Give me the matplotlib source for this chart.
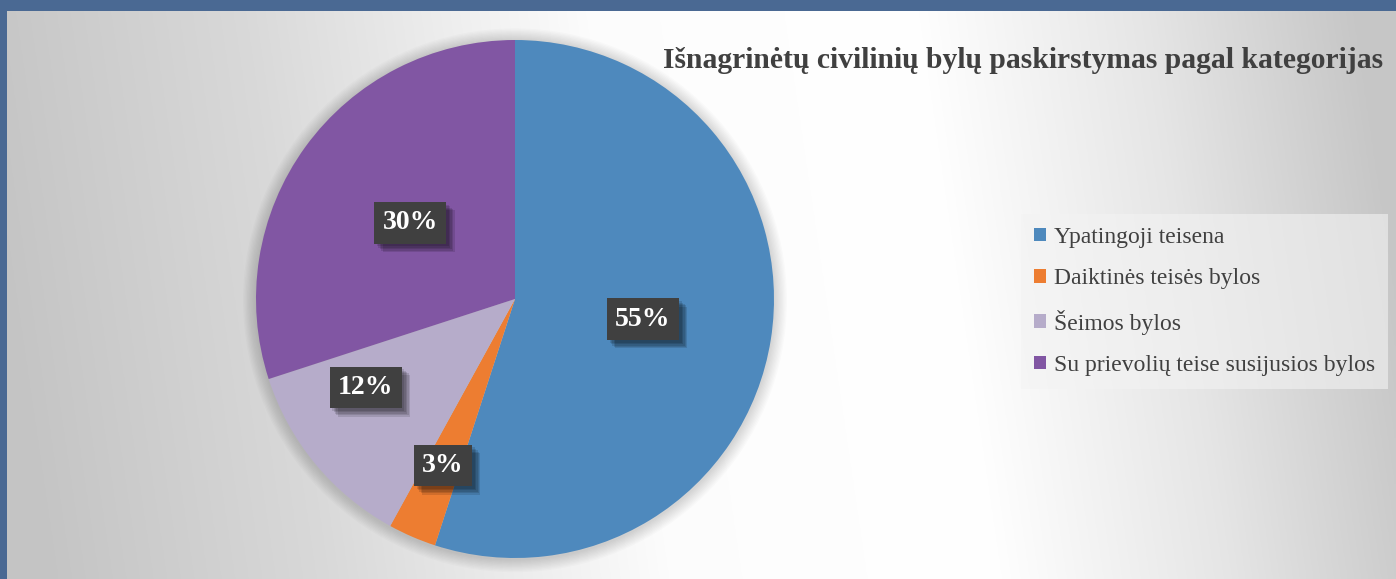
import numpy as np
import matplotlib
matplotlib.use("Agg")
import matplotlib.pyplot as plt
import matplotlib.patheffects as pe
from matplotlib.patches import Patch, Circle

# data
categories = ["Ypatingoji teisena", "Daiktinės teisės bylos",
              "Šeimos bylos", "Su prievolių teise susijusios bylos"]
shares = [55, 3, 12, 30]
title = "Išnagrinėtų civilinių bylų paskirstymas pagal kategorijas"

colors = ["#4e89bd", "#ed7d31", "#b6acca", "#8156a3"]
label_r = [0.5, 0.70, 0.67, 0.5]      # how far out each label sits
label_shift = [0, 0, -9, 0]           # small angle nudges (deg)

W, H = 1396, 579
fig = plt.figure(figsize=(W / 100, H / 100), dpi=100)
fig.patch.set_facecolor("#4a6993")

# chart area with a soft grey-white-grey gradient
bg = fig.add_axes([7 / W, 0, 1 - 7 / W, 1 - 11 / H])
xs = np.linspace(0, 1, 600)
ys = np.linspace(0, 1, 250)
X, Y = np.meshgrid(xs, ys)
u = X + 0.06 * (Y - 0.5)
g = np.interp(u, [0.0, 0.2, 0.45, 0.68, 0.85, 1.0], [0.77, 0.85, 0.99, 1.0, 0.9, 0.78])
bg.imshow(np.dstack([g, g, g]), aspect="auto", extent=[0, 1, 0, 1], origin="lower")
bg.set_axis_off()

# pie
cx, cy, r = 515, 299, 259
ax = fig.add_axes([(cx - r) / W, (H - cy - r) / H, 2 * r / W, 2 * r / H])
for k in range(10):
    ax.add_patch(Circle((0.0, -0.005), 1.0 + 0.005 * (k + 1), color="#000000",
                        alpha=0.014, lw=0, zorder=0, clip_on=False))
wedges, _ = ax.pie(shares, colors=colors, startangle=90, counterclock=False,
                   radius=1.0, wedgeprops=dict(linewidth=0))
ax.set_xlim(-1, 1)
ax.set_ylim(-1, 1)
ax.set_aspect("auto")
ax.set_axis_off()

shadow = [pe.SimplePatchShadow(offset=(o, -o), shadow_rgbFace="#000000", alpha=0.12)
          for o in (2, 3, 4, 5, 6)]
for w, v, lr, sh in zip(wedges, shares, label_r, label_shift):
    a = np.deg2rad((w.theta1 + w.theta2) / 2 + sh)
    t = ax.text(lr * np.cos(a), lr * np.sin(a), f"{v}%", ha="center", va="center",
                color="white", fontsize=20, fontweight="bold", family="Liberation Serif",
                bbox=dict(boxstyle="square,pad=0.3", fc="#404040", ec="none"), zorder=5)
    t.get_bbox_patch().set_path_effects(shadow + [pe.Normal()])

fig.text(1023 / W, 1 - 61 / H, title, ha="center", va="center", fontsize=21.3,
         fontweight="bold", family="Liberation Serif", color="#404040")

handles = [Patch(facecolor=c, edgecolor="none") for c in colors]
leg = fig.legend(handles, categories, loc="upper left",
                 bbox_to_anchor=(1021 / W, 1 - 214 / H), frameon=True,
                 borderaxespad=0,
                 prop=dict(family="Liberation Serif", size=17),
                 handlelength=0.5, handleheight=0.5, handletextpad=0.35,
                 labelspacing=0.86, borderpad=0.55, fancybox=False)
leg.get_frame().set_facecolor("#f3f3f3")
leg.get_frame().set_alpha(0.6)
leg.get_frame().set_edgecolor("none")
for txt in leg.get_texts():
    txt.set_color("#404040")

fig.savefig("out.png", dpi=100)
